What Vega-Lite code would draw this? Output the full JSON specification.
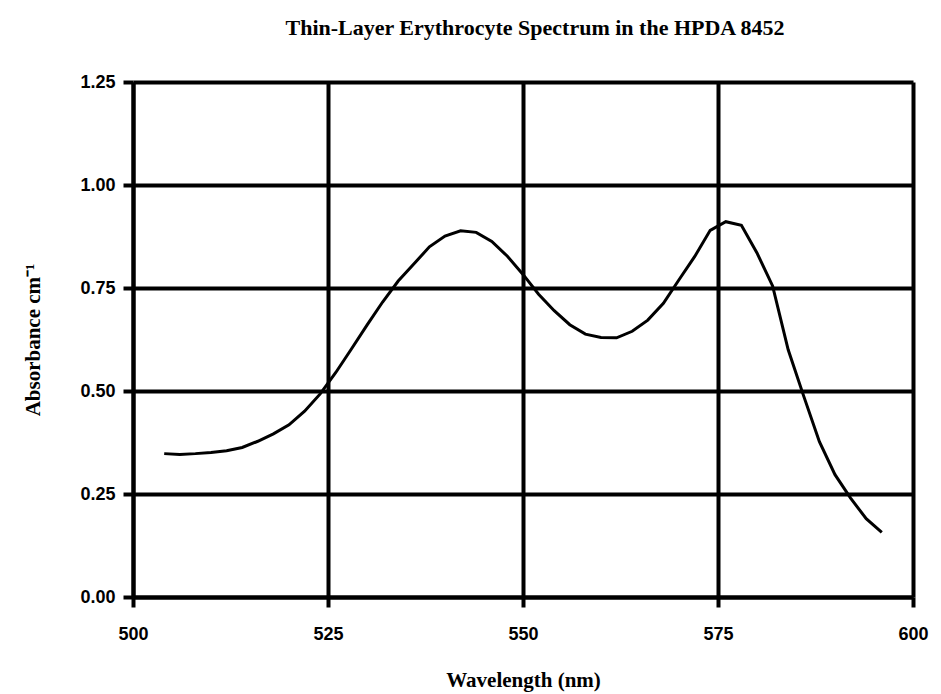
{
  "$schema": "https://vega.github.io/schema/vega-lite/v6.json",
  "autosize": "none",
  "width": 780,
  "height": 515,
  "padding": {"left": 133, "top": 82, "right": 28, "bottom": 97},
  "background": "white",
  "title": {
    "text": "Thin-Layer Erythrocyte Spectrum in the HPDA 8452",
    "font": "Liberation Serif",
    "fontSize": 22,
    "fontWeight": "bold",
    "color": "black",
    "anchor": "middle",
    "offset": 33,
    "dx": 12
  },
  "config": {
    "view": {"stroke": null},
    "axis": {
      "domainColor": "black",
      "domainWidth": 4,
      "gridColor": "black",
      "gridWidth": 4,
      "gridOpacity": 1,
      "tickColor": "black",
      "tickWidth": 4,
      "tickSize": 10,
      "labelFont": "Liberation Sans",
      "labelFontSize": 18,
      "labelFontWeight": "bold",
      "labelColor": "black",
      "titleFont": "Liberation Serif",
      "titleFontSize": 21,
      "titleFontWeight": "bold",
      "titleColor": "black"
    }
  },
  "data": {
    "values": [
      {"wavelength": 504, "absorbance": 0.348},
      {"wavelength": 506, "absorbance": 0.346},
      {"wavelength": 508, "absorbance": 0.348},
      {"wavelength": 510, "absorbance": 0.351},
      {"wavelength": 512, "absorbance": 0.355},
      {"wavelength": 514, "absorbance": 0.363},
      {"wavelength": 516, "absorbance": 0.378},
      {"wavelength": 518, "absorbance": 0.396},
      {"wavelength": 520, "absorbance": 0.418},
      {"wavelength": 522, "absorbance": 0.451},
      {"wavelength": 524, "absorbance": 0.493},
      {"wavelength": 526, "absorbance": 0.545},
      {"wavelength": 528, "absorbance": 0.602},
      {"wavelength": 530, "absorbance": 0.660},
      {"wavelength": 532, "absorbance": 0.716},
      {"wavelength": 534, "absorbance": 0.767},
      {"wavelength": 536, "absorbance": 0.808},
      {"wavelength": 538, "absorbance": 0.850},
      {"wavelength": 540, "absorbance": 0.876},
      {"wavelength": 542, "absorbance": 0.889},
      {"wavelength": 544, "absorbance": 0.885},
      {"wavelength": 546, "absorbance": 0.863},
      {"wavelength": 548, "absorbance": 0.827},
      {"wavelength": 550, "absorbance": 0.783},
      {"wavelength": 552, "absorbance": 0.735},
      {"wavelength": 554, "absorbance": 0.695},
      {"wavelength": 556, "absorbance": 0.661},
      {"wavelength": 558, "absorbance": 0.638},
      {"wavelength": 560, "absorbance": 0.630},
      {"wavelength": 562, "absorbance": 0.629},
      {"wavelength": 564, "absorbance": 0.645},
      {"wavelength": 566, "absorbance": 0.672},
      {"wavelength": 568, "absorbance": 0.713},
      {"wavelength": 570, "absorbance": 0.770},
      {"wavelength": 572, "absorbance": 0.826},
      {"wavelength": 574, "absorbance": 0.890},
      {"wavelength": 576, "absorbance": 0.911},
      {"wavelength": 578, "absorbance": 0.902},
      {"wavelength": 580, "absorbance": 0.835},
      {"wavelength": 582, "absorbance": 0.755},
      {"wavelength": 584, "absorbance": 0.600},
      {"wavelength": 586, "absorbance": 0.487},
      {"wavelength": 588, "absorbance": 0.377},
      {"wavelength": 590, "absorbance": 0.297},
      {"wavelength": 592, "absorbance": 0.240},
      {"wavelength": 594, "absorbance": 0.190},
      {"wavelength": 596, "absorbance": 0.157}
    ]
  },
  "mark": {"type": "line", "color": "black", "strokeWidth": 3},
  "encoding": {
    "x": {
      "field": "wavelength",
      "type": "quantitative",
      "scale": {"domain": [500, 600], "nice": false, "zero": false},
      "axis": {
        "title": "Wavelength (nm)",
        "values": [500, 525, 550, 575, 600],
        "labelPadding": 18,
        "titlePadding": 26,
        "labelFlush": false
      }
    },
    "y": {
      "field": "absorbance",
      "type": "quantitative",
      "scale": {"domain": [0, 1.25], "nice": false},
      "axis": {
        "title": "Absorbance cm⁻¹",
        "values": [0, 0.25, 0.5, 0.75, 1, 1.25],
        "format": ".2f",
        "labelPadding": 8,
        "titlePadding": 36,
        "labelFlush": false
      }
    }
  }
}
